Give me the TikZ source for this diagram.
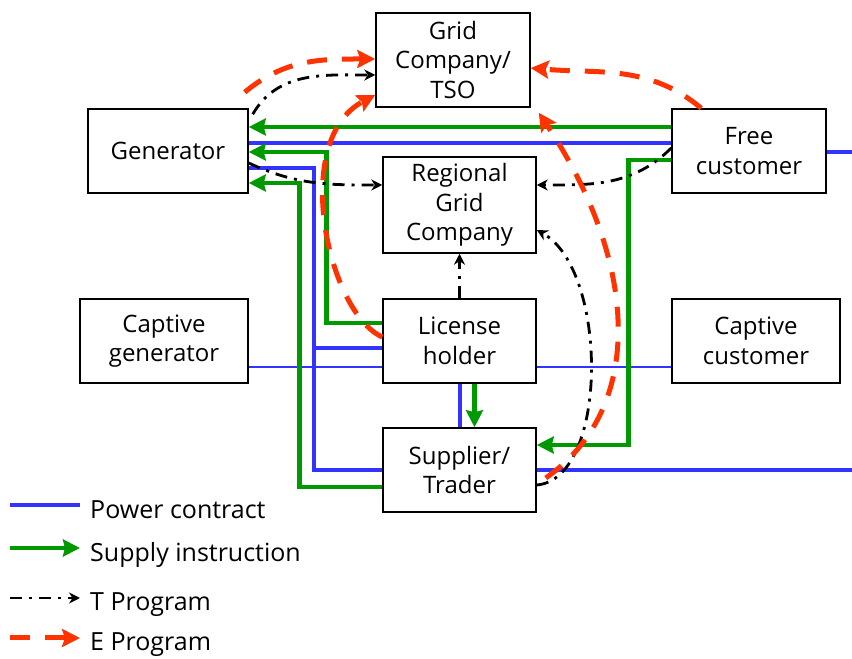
\documentclass[tikz,border=0pt]{standalone}
\usepackage{fontspec}
\setmainfont{Open Sans}
\usetikzlibrary{arrows.meta, calc}
\definecolor{contractblue}{HTML}{3333FF}
\definecolor{supplygreen}{HTML}{009900}
\definecolor{eprogred}{HTML}{FF3300}

\begin{document}
\begin{tikzpicture}[x=1pt, y=1pt,
    box/.style={rectangle, draw, line width=1.5pt, fill=white, minimum height=84pt, align=center, inner sep=0pt, font=\fontsize{24}{29.5}\selectfont},
    legend/.style={anchor=base west, inner xsep=10pt, inner ysep=0pt, font=\fontsize{25}{28}\selectfont},
    contract/.style={contractblue, line width=4pt},
    thincontract/.style={contractblue, line width=2pt},
    supply/.style={supplygreen, line width=4.5pt, -{Stealth[length=17pt,width=17pt,inset=2pt]}},
    tprog/.style={black, line width=2.8pt, dash pattern=on 12pt off 7pt on 3pt off 7pt, -{Stealth[length=11pt,width=11pt]}},
    eprog/.style={eprogred, line width=5pt, dash pattern=on 20pt off 15pt, -{Stealth[length=18pt,width=18pt,inset=3pt]}}]
    \useasboundingbox (0,0) rectangle (852,659);

    % boxes
    \node[box, minimum width=154pt, minimum height=94pt] (tso) at (453,599) {Grid\\Company/\\TSO};
    \node[box, minimum width=160pt] (gen) at (168,508) {Generator};
    \node[box, minimum width=154pt] (free) at (749,508) {Free\\customer};
    \node[box, minimum width=153pt, minimum height=96pt] (rgc) at (459.5,454) {Regional\\Grid\\Company};
    \node[box, minimum width=168pt] (capgen) at (164,318) {Captive\\generator};
    \node[box, minimum width=153pt] (lic) at (459.5,318) {License\\holder};
    \node[box, minimum width=168pt] (capcus) at (756,318) {Captive\\customer};
    \node[box, minimum width=153pt] (sup) at (459.5,189) {Supplier/\\Trader};
    \coordinate (freeout) at (852,507);
    \coordinate (supout) at (852,189);

    % power contracts
    \draw[contract] ([yshift=8]gen.east) -- ([yshift=8]free.west);
    \draw[contract] ([yshift=-1]free.east) -- (freeout);
    \draw[contract] ([yshift=-17]gen.east) -- ++(65,0) |- (sup.west);
    \draw[contract] ([yshift=-7]lic.west) -| ([xshift=65,yshift=-17]gen.east);
    \draw[thincontract] ([yshift=-26]capgen.east) -- ([yshift=-26]lic.west);
    \draw[thincontract] ([yshift=-26]lic.east) -- ([yshift=-26]capcus.west);
    \draw[contract] (lic.south) -- (sup.north);
    \draw[contract] (sup.east) -- (supout);

    % supply instructions
    \draw[supply] ([yshift=24]free.west) -- ([yshift=24]gen.east);
    \draw[supply] ([yshift=18]lic.west) -- ++(-56,0) |- ([yshift=-1]gen.east);
    \draw[supply] ([yshift=-17]sup.west) -- ++(-83,0) |- ([yshift=-32]gen.east);
    \draw[supply] ([yshift=-9]free.west) -- ++(-43,0) |- ([yshift=25]sup.east);
    \draw[supply] ([xshift=15]lic.south) -- ([xshift=15]sup.north);

    % T programs
    \draw[tprog] ([xshift=4,yshift=-6]gen.north east) to[out=60,in=180] ([yshift=-15]tso.west);
    \draw[tprog] ([yshift=-12]gen.east) to[out=-25,in=180] ([yshift=20]rgc.west);
    \draw[tprog] ([yshift=3]free.west) to[out=225,in=0] ([yshift=20]rgc.east);
    \draw[tprog] ([yshift=-15]sup.east) .. controls +(72,6) and +(72,-40) .. ([yshift=-25]rgc.east);
    \draw[tprog] (lic.north) -- (rgc.south);

    % E programs
    \draw[eprog] ([xshift=-4,yshift=16]gen.north east) to[out=40,in=180] ([yshift=1]tso.west);
    \draw[eprog] ([yshift=4]lic.west) .. controls +(-55,25) and +(-85,-45) .. ([yshift=-35]tso.west);
    \draw[eprog] ([xshift=30]free.north west) to[out=140,in=-5] ([yshift=-8]tso.east);
    \draw[eprog] ([xshift=9,yshift=-8]sup.east) .. controls +(100,70) and +(100,-150) .. ([xshift=8,yshift=-5]tso.south east);

    % legend
    \coordinate (lgpc) at (10,154);
    \coordinate (lgsi) at (10,111);
    \coordinate (lgtp) at (10,61);
    \coordinate (lgep) at (10,21);
    \node[legend] (lpc) at (80,140) {Power contract};
    \node[legend] (lsi) at (80,97) {Supply instruction};
    \node[legend] (ltp) at (80,48) {T Program};
    \node[legend] (lep) at (80,8) {E Program};
    \draw[contract] (lgpc) -- (lgpc -| lpc.west);
    \draw[supply] (lgsi) -- (lgsi -| lsi.west);
    \draw[tprog] (lgtp) -- (lgtp -| ltp.west);
    \draw[eprog] (lgep) -- (lgep -| lep.west);
\end{tikzpicture}
\end{document}
